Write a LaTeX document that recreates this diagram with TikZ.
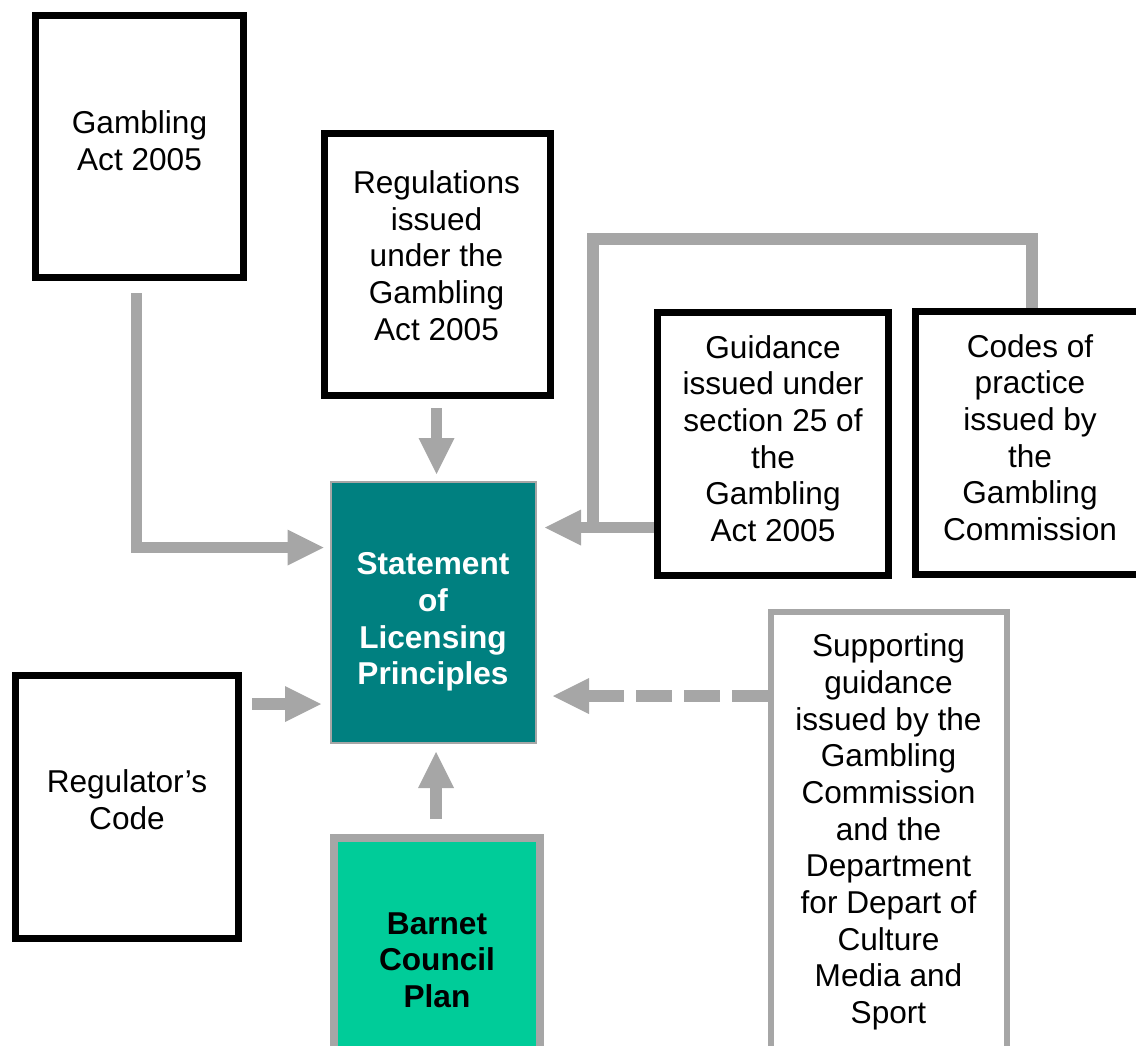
\documentclass[tikz,border=0pt]{standalone}
\usepackage{fontspec}
\setmainfont{Liberation Sans}
\usetikzlibrary{arrows.meta,calc}
\definecolor{arrgray}{HTML}{A6A6A6}
\definecolor{stmtteal}{HTML}{008080}
\definecolor{barnetgreen}{HTML}{00CC99}
\begin{document}
\begin{tikzpicture}[x=1pt,y=-1pt,
  blackbox/.style={draw=black,line width=7pt,fill=white,inner sep=0pt},
  graybox/.style={draw=arrgray,line width=6pt,fill=white,inner sep=0pt},
  txt/.style={inner sep=0pt,align=center,font=\fontsize{31.6}{36.7}\selectfont},
  arr/.style={draw=arrgray,line width=11.5pt,-{Triangle[length=36pt,width=36pt,line width=0pt]}},
  link/.style={draw=arrgray,line width=11.5pt}
]
\useasboundingbox (0,0) rectangle (1136,1046);
\clip (0,0) rectangle (1136,1046);

% boxes
\node[blackbox,minimum width=208pt,minimum height=262pt] (ga) at (139.5,146.5) {};
\node[blackbox,minimum width=226pt,minimum height=262pt] (reg) at (437.5,264.5) {};
\node[blackbox,minimum width=231pt,minimum height=263pt] (guid) at (773,444) {};
\node[blackbox,minimum width=229pt,minimum height=263pt] (codes) at (1030,443) {};
\node[draw=arrgray,line width=2pt,fill=stmtteal,inner sep=0pt,minimum width=205.5pt,minimum height=261pt] (stmt) at (433.25,612.5) {};
\node[blackbox,minimum width=223pt,minimum height=263pt] (rc) at (127,807) {};
\node[draw=arrgray,line width=8pt,fill=barnetgreen,inner sep=0pt,minimum width=206pt,minimum height=262pt] (barnet) at (437,969) {};
\node[graybox,minimum width=236pt,minimum height=448pt] (supp) at (889,836) {};

% texts
\node[txt] (ga-t) at (139.5,140.5) {Gambling\\Act 2005};
\node[txt] (reg-t) at (436.5,255.5) {Regulations\\issued\\under the\\Gambling\\Act 2005};
\node[txt] (guid-t) at (773,438.5) {Guidance\\issued under\\section 25 of\\the\\Gambling\\Act 2005};
\node[txt] (codes-t) at (1030,437.5) {Codes of\\practice\\issued by\\the\\Gambling\\Commission};
\node[txt,text=white,font=\fontsize{31.6}{36.7}\selectfont\bfseries] (stmt-t) at (433,622) {Statement\\of\\Licensing\\Principles};
\node[txt] (rc-t) at (127,799.5) {Regulator’s\\Code};
\node[txt,font=\fontsize{31.6}{36.7}\selectfont\bfseries] (barnet-t) at (437,960) {Barnet\\Council\\Plan};
\node[txt] (supp-t) at (888.5,832) {Supporting\\guidance\\issued by the\\Gambling\\Commission\\and the\\Department\\for Depart of\\Culture\\Media and\\Sport};

% connectors
\coordinate (jn) at (593,533);
\draw[arr] ($(ga.south)+(-3,12)$) |- ($(stmt.west)+(-6,-65)$);
\draw[arr] ($(reg.south)+(-1,9)$) -- ($(stmt.north)+(3.25,-7)$);
\draw[link] ($(codes.north)+(2,0)$) -- ++(0,-69) -| (jn);
\draw[arr] ($(guid.west)+(0,83.5)$) -- ($(stmt.east |- guid.west)+(8,83.5)$);
\draw[arr] ($(rc.east)+(10,-103)$) -- ($(stmt.west |- rc.east)+(-8.5,-103)$);
\draw[arr,dash pattern=on 36pt off 12pt] ($(supp.west)+(0,-140)$) -- ($(stmt.east |- supp.west)+(16,-140)$);
\draw[arr] ($(barnet.north)+(-1,-15)$) -- ($(stmt.south)+(2.75,8)$);
\end{tikzpicture}
\end{document}
